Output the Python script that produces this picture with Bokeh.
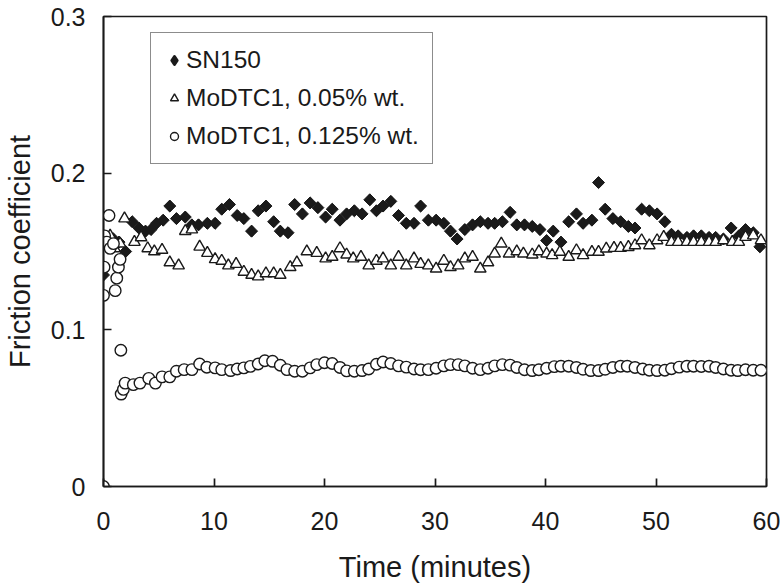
import math
from bokeh.plotting import figure
from bokeh.models import Legend, LegendItem, Range1d, FixedTicker, CustomJSTickFormatter
from bokeh.embed import file_html
from bokeh.resources import INLINE

# ---- data ----
sn_time = [0, 0.2, 0.9, 1.4, 2.0, 2.6, 3.2, 3.8, 4.3, 4.8, 5.4, 6.0, 6.6, 7.4, 8.0,
           8.6, 9.4, 10.1, 10.7, 11.4, 12.1, 12.7, 13.4, 14.0, 14.7, 15.4, 16.0, 16.7, 17.3, 18.0,
           18.7, 19.4, 20.1, 20.7, 21.4, 22.0, 22.7, 23.4, 24.1, 24.7, 25.3, 26.0, 26.7, 27.4, 28.1,
           28.7, 29.4, 30.1, 30.8, 31.4, 32.0, 32.7, 33.4, 34.1, 34.8, 35.4, 36.1, 36.8, 37.4, 38.1,
           38.8, 39.5, 40.1, 40.7, 41.4, 42.1, 42.8, 43.4, 44.2, 44.8, 45.4, 46.1, 46.8, 47.5, 48.1,
           48.7, 49.4, 50.1, 50.8, 51.4, 52.0, 52.8, 53.4, 54.1, 54.8, 55.4, 56.1, 56.8, 57.5, 58.1,
           58.8, 59.4]
sn_friction = [0.135, 0.158, 0.158, 0.156, 0.150, 0.169, 0.165, 0.163, 0.164, 0.168, 0.170, 0.179, 0.171, 0.172, 0.167,
               0.167, 0.168, 0.168, 0.177, 0.180, 0.173, 0.171, 0.163, 0.176, 0.179, 0.169, 0.163, 0.162, 0.180, 0.174,
               0.181, 0.178, 0.172, 0.177, 0.170, 0.174, 0.176, 0.174, 0.183, 0.176, 0.179, 0.182, 0.173, 0.168, 0.168,
               0.179, 0.170, 0.170, 0.168, 0.163, 0.158, 0.164, 0.167, 0.169, 0.168, 0.168, 0.169, 0.175, 0.167, 0.167,
               0.166, 0.164, 0.157, 0.163, 0.156, 0.169, 0.174, 0.168, 0.170, 0.194, 0.177, 0.171, 0.169, 0.166, 0.165,
               0.177, 0.176, 0.174, 0.169, 0.161, 0.160, 0.159, 0.160, 0.160, 0.159, 0.159, 0.158, 0.165, 0.160, 0.164,
               0.162, 0.153]

m05_time = [0, 0.2, 0.6, 1.0, 1.5, 1.9, 2.8, 3.4, 4.0, 4.6, 5.3, 6.0, 6.8, 7.4, 8.0,
            8.7, 9.4, 10.1, 10.7, 11.3, 12.0, 12.7, 13.4, 14.0, 14.7, 15.4, 16.0, 16.9, 17.5, 18.4,
            19.3, 20.1, 20.7, 21.4, 22.0, 22.6, 23.3, 24.0, 24.7, 25.3, 26.0, 26.7, 27.4, 28.1, 28.7,
            29.4, 30.1, 30.8, 31.4, 32.1, 32.7, 33.4, 34.1, 34.8, 35.4, 36.0, 36.7, 37.4, 38.0, 38.8,
            39.4, 40.1, 40.6, 41.3, 42.1, 42.8, 43.4, 44.2, 44.8, 45.5, 46.2, 46.8, 47.5, 48.1, 48.7,
            49.4, 50.1, 50.7, 51.4, 52.0, 52.8, 53.4, 54.1, 54.8, 55.4, 56.1, 56.9, 57.5, 58.1, 58.8,
            59.5]
m05_friction = [0.0, 0.157, 0.160, 0.152, 0.155, 0.171, 0.156, 0.159, 0.152, 0.150, 0.151, 0.143, 0.141, 0.163, 0.164,
                0.153, 0.149, 0.145, 0.144, 0.141, 0.142, 0.137, 0.135, 0.134, 0.136, 0.136, 0.135, 0.140, 0.143, 0.150,
                0.149, 0.1455, 0.1465, 0.152, 0.148, 0.1455, 0.1465, 0.141, 0.144, 0.1455, 0.141, 0.1465, 0.141, 0.1455, 0.142,
                0.141, 0.139, 0.144, 0.140, 0.141, 0.1455, 0.1465, 0.139, 0.143, 0.1486, 0.155, 0.1486, 0.150, 0.1486, 0.148,
                0.150, 0.1486, 0.1476, 0.1497, 0.1465, 0.1507, 0.1476, 0.1497, 0.1497, 0.1518, 0.1522, 0.1522, 0.1528, 0.1539, 0.1571,
                0.1539, 0.1571, 0.1592, 0.156, 0.156, 0.156, 0.156, 0.156, 0.156, 0.156, 0.1571, 0.156, 0.156, 0.1592, 0.1602,
                0.1571]

m125_time = [0, 0, 0.05, 0.1, 0.3, 0.5, 0.6, 0.9, 1.06, 1.2, 1.35, 1.5, 1.57, 1.6, 1.8,
             1.96, 2.7, 3.3, 4.1, 4.7, 5.3, 6.0, 6.6, 7.3, 8.0, 8.7, 9.35, 10.1, 10.7, 11.5,
             12.1, 12.7, 13.3, 14.0, 14.6, 15.3, 16.0, 16.6, 17.3, 18.0, 18.7, 19.3, 20.0, 20.7, 21.4,
             22.0, 22.7, 23.4, 24.0, 24.7, 25.3, 26.0, 26.7, 27.4, 28.1, 28.7, 29.4, 30.1, 30.8, 31.4,
             32.1, 32.7, 33.4, 34.1, 34.8, 35.4, 36.1, 36.8, 37.4, 38.1, 38.8, 39.4, 40.1, 40.8, 41.4,
             42.1, 42.8, 43.4, 44.1, 44.8, 45.4, 46.1, 46.8, 47.4, 48.1, 48.8, 49.4, 50.1, 50.8, 51.4,
             52.1, 52.8, 53.4, 54.1, 54.8, 55.4, 56.1, 56.8, 57.4, 58.1, 58.8, 59.5]
m125_friction = [0.0, 0.122, 0.140, 0.160, 0.156, 0.173, 0.152, 0.155, 0.125, 0.133, 0.140, 0.145, 0.087, 0.059, 0.062,
                 0.066, 0.065, 0.066, 0.069, 0.066, 0.070, 0.070, 0.0736, 0.0746, 0.0746, 0.0782, 0.0761, 0.0757, 0.0746, 0.074,
                 0.075, 0.0757, 0.0767, 0.0782, 0.0803, 0.0799, 0.0774, 0.0746, 0.0736, 0.0736, 0.0757, 0.0778, 0.079, 0.0785, 0.076,
                 0.0738, 0.0736, 0.074, 0.075, 0.078, 0.0795, 0.0785, 0.077, 0.0762, 0.075, 0.0745, 0.0746, 0.0755, 0.077, 0.0778,
                 0.0778, 0.077, 0.0755, 0.0746, 0.0755, 0.077, 0.0778, 0.0775, 0.076, 0.0745, 0.074, 0.0745, 0.0755, 0.0765, 0.0768,
                 0.0768, 0.076, 0.0748, 0.074, 0.074, 0.0748, 0.076, 0.0768, 0.0768, 0.076, 0.075, 0.0742, 0.074, 0.0742, 0.0752,
                 0.0762, 0.0768, 0.0768, 0.0766, 0.0768, 0.076, 0.075, 0.0742, 0.074, 0.0745, 0.0742, 0.0742]

x_ticks = [0, 10, 20, 30, 40, 50, 60]
y_ticks = [0, 0.1, 0.2, 0.3]
labels = ["SN150", "MoDTC1, 0.05% wt.", "MoDTC1, 0.125% wt."]

FONT = "Liberation Sans"
INK = "#1a1a1a"

p = figure(frame_width=663, frame_height=470,
           min_border_left=100, min_border_right=16, min_border_top=16, min_border_bottom=100,
           x_range=Range1d(0, 60), y_range=Range1d(0, 0.3),
           output_backend="svg", toolbar_location=None,
           background_fill_color="white", border_fill_color="white")
p.grid.visible = False
p.outline_line_color = INK
p.outline_line_width = 1.7

# legend key for SN150 (Bokeh legends draw markers unrotated); it sits hidden under the data diamonds
r_sn_key = p.scatter(sn_time, sn_friction, marker="diamond", size=8,
                     fill_color=INK, line_color=INK, line_width=3, line_join="round")
r_sn = p.scatter(sn_time, sn_friction, marker="square", size=8.5, angle=math.pi / 4,
                 fill_color=INK, line_color=INK, line_width=1)
r_05 = p.scatter(m05_time, m05_friction, marker="triangle", size=11.5,
                 fill_color="white", line_color=INK, line_width=1.4)
r_125 = p.scatter(m125_time, m125_friction, marker="circle", size=11.5,
                  fill_color="white", line_color=INK, line_width=1.4)

for ax in (p.xaxis[0], p.yaxis[0]):
    ax.major_tick_in = 8
    ax.major_tick_out = 0
    ax.minor_tick_line_color = None
    ax.axis_line_color = INK
    ax.axis_line_width = 1.7
    ax.major_tick_line_color = INK
    ax.major_tick_line_width = 1.7
    ax.major_label_text_font = FONT
    ax.major_label_text_font_size = "25px"
    ax.major_label_text_color = INK
    ax.axis_label_text_font = FONT
    ax.axis_label_text_font_size = "29px"
    ax.axis_label_text_font_style = "normal"
    ax.axis_label_text_color = INK

p.xaxis.ticker = FixedTicker(ticks=x_ticks)
p.yaxis.ticker = FixedTicker(ticks=y_ticks)
p.yaxis.formatter = CustomJSTickFormatter(code="return tick == 0 ? '0' : tick.toFixed(1);")
p.xaxis.axis_label = "Time (minutes)"
p.yaxis.axis_label = "Friction coefficient"
p.xaxis.major_label_standoff = 25
p.xaxis.axis_label_standoff = 18
p.yaxis.major_label_standoff = 18
p.yaxis.axis_label_standoff = 12

legend = Legend(items=[LegendItem(label=labels[0], renderers=[r_sn_key]),
                       LegendItem(label=labels[1], renderers=[r_05]),
                       LegendItem(label=labels[2], renderers=[r_125])],
                location=(47, 322), orientation="vertical",
                border_line_color=INK, border_line_width=1.7,
                background_fill_color="white", background_fill_alpha=1,
                label_text_font=FONT, label_text_font_size="24.5px", label_text_color=INK,
                glyph_width=20, glyph_height=20, label_height=28,
                label_standoff=2, padding=13, spacing=10, margin=0)
p.add_layout(legend)

open("out.html", "w").write(file_html(p, INLINE))
